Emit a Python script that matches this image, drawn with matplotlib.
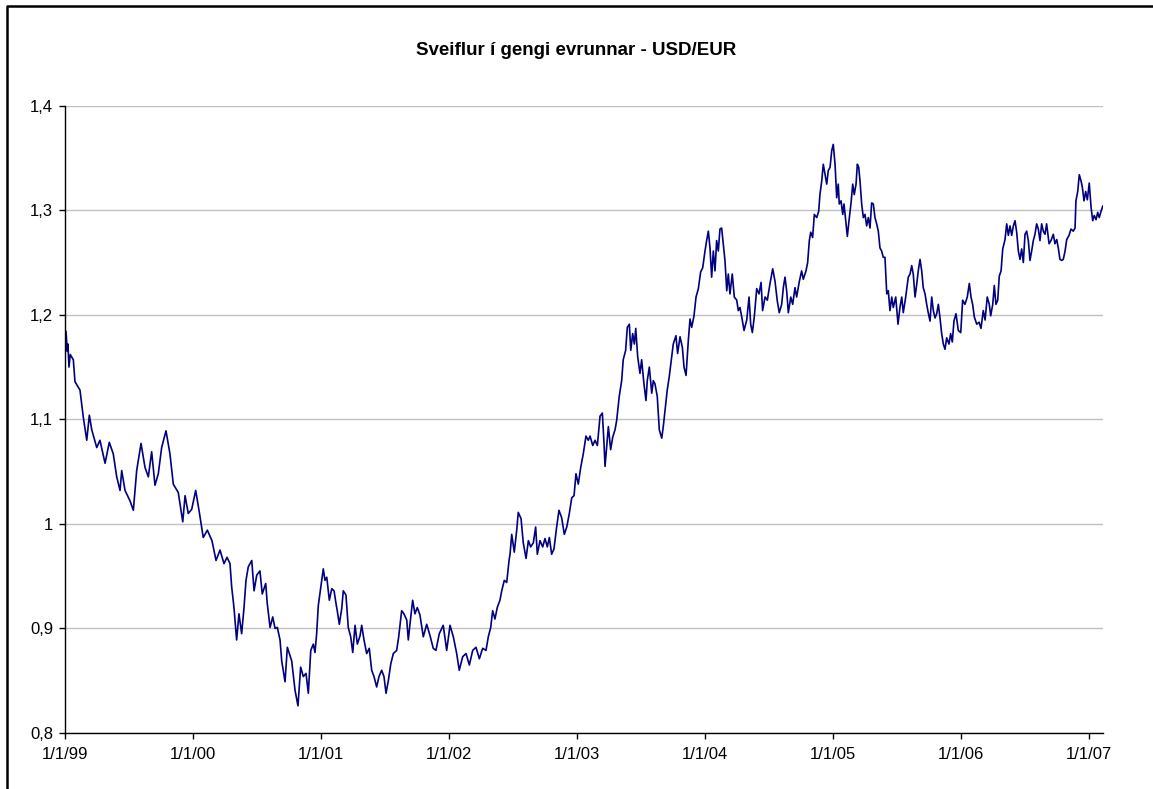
import matplotlib
matplotlib.use("Agg")
import matplotlib.pyplot as plt
from matplotlib.lines import Line2D

# years after 1 Jan 1999, and the USD/EUR rate
t_years = [
    0.008, 0.018, 0.023, 0.031, 0.041, 0.065, 0.078, 0.117, 0.143, 0.170,
    0.190, 0.209, 0.248, 0.273, 0.313, 0.346, 0.377, 0.404, 0.430, 0.443,
    0.469, 0.508, 0.534, 0.560, 0.594, 0.625, 0.651, 0.677, 0.703, 0.729,
    0.755, 0.789, 0.820, 0.846, 0.885, 0.920, 0.938, 0.963, 0.990, 1.021,
    1.047, 1.080, 1.112, 1.148, 1.180, 1.211, 1.242, 1.266,
    1.289, 1.302, 1.320, 1.341, 1.359, 1.380, 1.398, 1.414, 1.432, 1.459,
    1.477, 1.498, 1.523, 1.541, 1.568, 1.580, 1.602, 1.623, 1.641, 1.659,
    1.680, 1.693, 1.719, 1.737, 1.771, 1.797, 1.820, 1.841, 1.862, 1.883,
    1.901, 1.920, 1.940, 1.953, 1.966, 1.979, 1.998, 2.018, 2.031, 2.045,
    2.065, 2.084, 2.102, 2.117, 2.127, 2.143, 2.162, 2.174, 2.195, 2.213,
    2.232, 2.248, 2.266, 2.284, 2.305, 2.318, 2.336, 2.357, 2.377, 2.396,
    2.414, 2.435, 2.453, 2.474, 2.492, 2.508, 2.526, 2.545, 2.565, 2.591,
    2.607, 2.630, 2.648, 2.670, 2.682, 2.695, 2.716, 2.734, 2.752, 2.773,
    2.799, 2.826, 2.852, 2.877, 2.898, 2.924, 2.955, 2.982, 3.008, 3.034,
    3.060, 3.080, 3.107, 3.133, 3.159, 3.185, 3.211, 3.237, 3.263, 3.289,
    3.307, 3.326, 3.341, 3.359, 3.377, 3.398, 3.412, 3.432, 3.451, 3.469,
    3.477, 3.490, 3.510, 3.529, 3.541, 3.563, 3.580, 3.602, 3.620, 3.638,
    3.659, 3.677, 3.690, 3.711, 3.732, 3.750, 3.768, 3.784, 3.802, 3.820,
    3.841, 3.859, 3.880, 3.901, 3.920, 3.940, 3.959, 3.977, 3.992, 4.010,
    4.029, 4.049, 4.070, 4.088, 4.102, 4.123, 4.141, 4.159,
    4.180, 4.198, 4.211, 4.219, 4.245, 4.263, 4.279, 4.297, 4.310, 4.330,
    4.349, 4.361, 4.380, 4.393, 4.409, 4.420, 4.435, 4.448, 4.459, 4.474,
    4.492, 4.505, 4.523, 4.539, 4.549, 4.565, 4.584, 4.596, 4.609, 4.627,
    4.643, 4.662, 4.674, 4.688, 4.705, 4.721, 4.740, 4.752, 4.773, 4.786,
    4.805, 4.823, 4.836, 4.852, 4.870, 4.883, 4.896, 4.914, 4.930, 4.948,
    4.966, 4.982, 5.000, 5.013, 5.026, 5.039, 5.052, 5.065, 5.078, 5.091,
    5.104, 5.117, 5.130, 5.143, 5.156, 5.170, 5.182, 5.195, 5.213, 5.229,
    5.248, 5.260, 5.273, 5.287, 5.305, 5.326, 5.344, 5.357, 5.370, 5.385,
    5.404, 5.422, 5.438, 5.450, 5.469, 5.487, 5.508,
    5.529, 5.547, 5.565, 5.580, 5.599, 5.612, 5.625, 5.638, 5.651, 5.670,
    5.685, 5.703, 5.716, 5.737, 5.755, 5.768, 5.789, 5.802, 5.815, 5.826,
    5.841, 5.854, 5.873, 5.888, 5.898, 5.912, 5.924, 5.938, 5.951, 5.963,
    5.977, 5.990, 6.002, 6.016, 6.029, 6.041, 6.049, 6.063, 6.076, 6.086,
    6.102, 6.112, 6.125, 6.141, 6.154, 6.166, 6.180, 6.190, 6.201, 6.211,
    6.224, 6.237, 6.250, 6.263, 6.276, 6.289, 6.302, 6.315, 6.328, 6.341,
    6.354, 6.367, 6.380, 6.393, 6.406, 6.420, 6.432, 6.445, 6.459, 6.471,
    6.490, 6.508, 6.523, 6.537, 6.549, 6.568, 6.588, 6.602, 6.615, 6.627,
    6.641, 6.654, 6.666, 6.680, 6.693, 6.705, 6.719, 6.732, 6.744, 6.758,
    6.771, 6.784, 6.797, 6.810, 6.823, 6.836, 6.849, 6.862, 6.875, 6.888,
    6.906, 6.919, 6.932, 6.945, 6.961, 6.979, 6.998,
    7.013, 7.031, 7.049, 7.065, 7.078, 7.091, 7.104, 7.123, 7.141, 7.156,
    7.174, 7.188, 7.205, 7.221, 7.232, 7.248, 7.260, 7.273, 7.287, 7.299,
    7.313, 7.326, 7.344, 7.357, 7.370, 7.383, 7.396, 7.409, 7.422, 7.435,
    7.448, 7.461, 7.474, 7.487, 7.500, 7.513, 7.526, 7.539, 7.552, 7.565,
    7.578, 7.591, 7.604, 7.617, 7.630, 7.643, 7.656, 7.669, 7.688, 7.703,
    7.721, 7.734, 7.748, 7.760, 7.773, 7.787, 7.799, 7.813, 7.826, 7.844,
    7.859, 7.877, 7.891, 7.898, 7.912, 7.924, 7.938, 7.948, 7.961, 7.974,
    7.987, 8.002, 8.016, 8.029, 8.041, 8.055, 8.068, 8.080, 8.094, 8.108,
]

usd_eur = [
    1.184, 1.165, 1.172, 1.150, 1.162, 1.157, 1.136, 1.128, 1.102, 1.080,
    1.104, 1.090, 1.073, 1.080, 1.058, 1.078, 1.067, 1.045, 1.032, 1.051,
    1.032, 1.022, 1.013, 1.051, 1.077, 1.054, 1.045, 1.069, 1.037, 1.048,
    1.073, 1.089, 1.067, 1.038, 1.030, 1.002, 1.027, 1.010, 1.014, 1.032,
    1.013, 0.987, 0.994, 0.984, 0.965, 0.975, 0.962, 0.968,
    0.962, 0.940, 0.920, 0.889, 0.914, 0.895, 0.919, 0.946, 0.959, 0.965,
    0.936, 0.951, 0.955, 0.933, 0.943, 0.924, 0.901, 0.911, 0.900, 0.901,
    0.889, 0.869, 0.849, 0.882, 0.869, 0.841, 0.826, 0.863, 0.854, 0.857,
    0.838, 0.879, 0.885, 0.877, 0.895, 0.922, 0.939, 0.957, 0.946, 0.949,
    0.927, 0.938, 0.936, 0.924, 0.917, 0.904, 0.919, 0.936, 0.932, 0.901,
    0.892, 0.877, 0.903, 0.885, 0.893, 0.903, 0.889, 0.876, 0.881, 0.860,
    0.854, 0.844, 0.854, 0.860, 0.854, 0.838, 0.850, 0.866, 0.876, 0.879,
    0.892, 0.917, 0.914, 0.908, 0.889, 0.904, 0.927, 0.914, 0.920, 0.913,
    0.892, 0.904, 0.893, 0.881, 0.879, 0.895, 0.903, 0.879, 0.903, 0.892,
    0.876, 0.860, 0.873, 0.876, 0.865, 0.879, 0.882, 0.871, 0.881, 0.879,
    0.892, 0.901, 0.917, 0.909, 0.920, 0.927, 0.936, 0.946, 0.944, 0.965,
    0.971, 0.990, 0.973, 0.994, 1.011, 1.005, 0.982, 0.967, 0.984, 0.978,
    0.982, 0.997, 0.971, 0.984, 0.978, 0.986, 0.978, 0.987, 0.971, 0.976,
    0.997, 1.013, 1.006, 0.990, 0.997, 1.010, 1.025, 1.027, 1.048, 1.038,
    1.054, 1.067, 1.084, 1.080, 1.084, 1.075, 1.080, 1.075,
    1.103, 1.106, 1.077, 1.055, 1.093, 1.071, 1.083, 1.090, 1.099, 1.122,
    1.137, 1.157, 1.166, 1.188, 1.191, 1.166, 1.182, 1.172, 1.187, 1.160,
    1.144, 1.157, 1.134, 1.118, 1.137, 1.150, 1.125, 1.137, 1.134, 1.122,
    1.090, 1.082, 1.093, 1.109, 1.128, 1.141, 1.160, 1.172, 1.180, 1.163,
    1.179, 1.169, 1.150, 1.142, 1.176, 1.196, 1.188, 1.199, 1.217, 1.225,
    1.241, 1.245, 1.261, 1.271, 1.280, 1.264, 1.236, 1.261, 1.242, 1.271,
    1.261, 1.282, 1.283, 1.268, 1.252, 1.223, 1.239, 1.220, 1.239, 1.217,
    1.214, 1.204, 1.207, 1.198, 1.185, 1.195, 1.217, 1.191, 1.183, 1.198,
    1.225, 1.220, 1.231, 1.204, 1.217, 1.214, 1.230,
    1.244, 1.232, 1.213, 1.202, 1.210, 1.226, 1.236, 1.223, 1.202, 1.217,
    1.210, 1.226, 1.217, 1.232, 1.242, 1.234, 1.242, 1.250, 1.271, 1.279,
    1.274, 1.296, 1.293, 1.299, 1.315, 1.328, 1.344, 1.334, 1.325, 1.338,
    1.341, 1.357, 1.363, 1.344, 1.312, 1.325, 1.306, 1.309, 1.296, 1.306,
    1.287, 1.275, 1.290, 1.307, 1.325, 1.315, 1.325, 1.344, 1.341, 1.328,
    1.306, 1.293, 1.296, 1.285, 1.293, 1.283, 1.307, 1.306, 1.293, 1.287,
    1.280, 1.264, 1.261, 1.255, 1.255, 1.220, 1.223, 1.204, 1.217, 1.207,
    1.217, 1.191, 1.207, 1.217, 1.202, 1.217, 1.236, 1.239, 1.247, 1.239,
    1.217, 1.229, 1.242, 1.253, 1.242, 1.226, 1.220, 1.210, 1.202, 1.194,
    1.217, 1.204, 1.197, 1.201, 1.210, 1.197, 1.182, 1.172, 1.167, 1.178,
    1.172, 1.182, 1.174, 1.194, 1.201, 1.185, 1.183,
    1.214, 1.210, 1.217, 1.230, 1.217, 1.210, 1.198, 1.191, 1.193, 1.187,
    1.204, 1.195, 1.217, 1.210, 1.199, 1.210, 1.228, 1.210, 1.214, 1.237,
    1.242, 1.263, 1.272, 1.287, 1.276, 1.285, 1.276, 1.285, 1.290, 1.279,
    1.261, 1.253, 1.263, 1.250, 1.277, 1.280, 1.271, 1.252, 1.261, 1.271,
    1.277, 1.287, 1.282, 1.271, 1.287, 1.280, 1.277, 1.287, 1.268, 1.271,
    1.277, 1.268, 1.272, 1.264, 1.253, 1.252, 1.253, 1.261, 1.272, 1.276,
    1.282, 1.280, 1.283, 1.309, 1.318, 1.334, 1.328, 1.322, 1.309, 1.318,
    1.310, 1.326, 1.303, 1.290, 1.295, 1.291, 1.298, 1.293, 1.299, 1.304,
]

x_tick_labels = ["1/1/99", "1/1/00", "1/1/01", "1/1/02", "1/1/03",
                 "1/1/04", "1/1/05", "1/1/06", "1/1/07"]
y_ticks = [0.8, 0.9, 1.0, 1.1, 1.2, 1.3, 1.4]
y_tick_labels = ["0,8", "0,9", "1", "1,1", "1,2", "1,3", "1,4"]

plt.rcParams["font.family"] = ["Liberation Sans", "DejaVu Sans"]

W, H = 1153, 789
fig = plt.figure(figsize=(W / 100, H / 100), dpi=100)
ax = fig.add_axes([65 / W, 1 - 733 / H, (1103 - 65) / W, (733 - 105.7) / H])

ax.plot(t_years, usd_eur, color="#000080", linewidth=1.2)

ax.set_xlim(0, (1103 - 65) / 128)
ax.set_ylim(0.8, 1.4)
ax.set_xticks(range(len(x_tick_labels)))
ax.set_xticklabels(x_tick_labels, fontsize=12)
ax.set_yticks(y_ticks)
ax.set_yticklabels(y_tick_labels, fontsize=12)
ax.tick_params(direction="out", length=4, width=1, color="black")
ax.tick_params(axis="x", pad=6)
ax.tick_params(axis="y", pad=4.5)

ax.grid(axis="y", color="#c0c0c0", linewidth=1)
ax.set_axisbelow(True)
for side in ["top", "right"]:
    ax.spines[side].set_visible(False)
for side in ["left", "bottom"]:
    ax.spines[side].set_color("black")
    ax.spines[side].set_linewidth(1)

fig.text(0.5, 1 - 55 / H, "Sveiflur í gengi evrunnar - USD/EUR",
         ha="center", va="baseline", fontsize=13.5, fontweight="bold")

# chart frame: only its left and top edges fall inside the picture
fig.lines.append(Line2D([7 / W, 7 / W, 1], [0, 1 - 6 / H, 1 - 6 / H],
                        transform=fig.transFigure, color="black", linewidth=1.8))

fig.savefig("out.png", dpi=100)
